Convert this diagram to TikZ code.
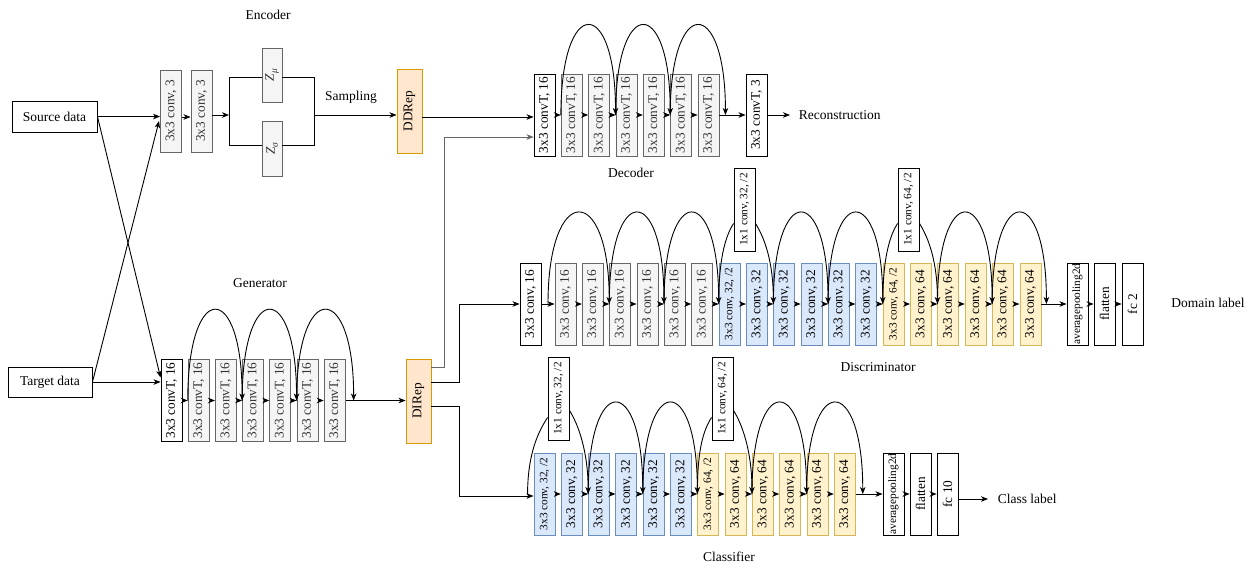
\documentclass[tikz,border=0pt]{standalone}
\usepackage{fontspec}
\setmainfont{Liberation Serif}
\usetikzlibrary{arrows.meta,calc}
\definecolor{grayfill}{HTML}{F5F5F5}
\definecolor{graydraw}{HTML}{666666}
\definecolor{graytext}{HTML}{333333}
\definecolor{bluefill}{HTML}{DAE8FC}
\definecolor{bluedraw}{HTML}{6C8EBF}
\definecolor{yelfill}{HTML}{FFF2CC}
\definecolor{yeldraw}{HTML}{D6B656}
\definecolor{orfill}{HTML}{FFE6CC}
\definecolor{ordraw}{HTML}{D79B00}
\newcommand{\vt}[1]{\rotatebox{90}{\makebox[0pt]{#1}}}
\newcommand{\zsub}[1]{\textit{Z}\raisebox{-3pt}{\fontsize{9.5}{10}\selectfont\textit{#1}}}
\begin{document}
\begin{tikzpicture}[x=1pt,y=-1pt, line width=0.9pt,
 >={Stealth[length=7pt,width=5.5pt,inset=2pt]},
 font=\fontsize{13.5}{16}\selectfont,
 lay/.style={draw, line width=0.9pt, minimum width=21pt, minimum height=82pt, inner sep=0pt, font=\fontsize{13.3}{15}\selectfont},
 wbox/.style={lay, fill=white, draw=black},
 gbox/.style={lay, fill=grayfill, draw=graydraw, text=graytext},
 bbox/.style={lay, fill=bluefill, draw=bluedraw},
 ybox/.style={lay, fill=yelfill, draw=yeldraw},
 obox/.style={lay, fill=orfill, draw=ordraw, minimum width=25pt, minimum height=84pt},
 small/.style={font=\fontsize{11.3}{13}\selectfont},
 tbox/.style={draw, minimum width=85pt, minimum height=31pt, inner sep=0pt},
 res/.style={->},
]
\useasboundingbox (0,0) rectangle (1247,563);

% ---------------- labels
\node (lenc) at (268,15) {Encoder};
\node (lsamp) at (351,97) {Sampling};
\node (ldec) at (631,173) {Decoder};
\node (lgen) at (260,283) {Generator};
\node (ldis) at (878,367) {Discriminator};
\node (ldom) at (1208,303) {Domain label};
\node (lcls) at (729,557) {Classifier};

% ---------------- inputs
\node[tbox] (src) at (54.5,116.5) {Source data};
\node[tbox, minimum width=84pt, minimum height=30pt] (tgt) at (50,382) {Target data};

% ---------------- encoder
\node[gbox] (e1) at (171,111) {\vt{3x3 conv, 3}};
\node[gbox] (e2) at (201.5,111) {\vt{3x3 conv, 3}};
\node[gbox, minimum width=20pt, minimum height=54pt] (zmu) at (272,75) {\vt{\zsub{μ}}};
\node[gbox, minimum width=20pt, minimum height=55pt] (zsig) at (272,148.5) {\vt{\zsub{σ}}};
\node[obox] (ddrep) at (409.5,111) {\vt{DDRep}};

\coordinate (jm) at (229,115);
\coordinate (jt) at (229,77);
\coordinate (jb) at (229,145);
\coordinate (kt) at (314,77);
\coordinate (kb) at (314,145);
\coordinate (km) at (314,115);

\draw[->] (src.east) -- (src.east -| e1.west);
\draw[->] ($(e1.east)+(0,6)$) -- ($(e2.west)+(0,6)$);
\draw[->] ($(e2.east)+(0,4)$) -- (jm);
\draw (jt) -- (jb);
\draw (jt) -- (jt -| zmu.west);
\draw (jb) -- (jb -| zsig.west);
\draw (zmu.east |- kt) -- (kt) -- (kb) -- (zsig.east |- kb);
\draw[->] (km) -- (km -| ddrep.west);

% ---------------- generator
\node[wbox] (g1) at (171.5,400.5) {\vt{3x3 convT, 16}};
\foreach \i in {2,...,7}
  \node[gbox] (g\i) at ({171.5+27.2*(\i-1)},400.5) {\vt{3x3 convT, 16}};
\node[obox] (direp) at (418.5,401) {\vt{DIRep}};
\draw[->] (tgt.east) -- (tgt.east -| g1.west);
\foreach \a/\b in {1/2,2/3,3/4,4/5,5/6,6/7}
  \draw[->] (g\a.east) -- (g\b.west);
\draw[->] (g7.east) -- (g7.east -| direp.west);
\draw[res] (g2.west) .. controls +(0,-121) and +(0,-121) .. (g4.west);
\draw[res] (g4.west) .. controls +(0,-121) and +(0,-121) .. (g6.west);
\draw[res] (g6.west) .. controls +(0,-121) and +(0,-121) .. ($(g7.east)+(8,0)$);

% cross connections
\draw[->] (src.east) -- ($(g1.west)+(0,-23)$);
\draw[->] (tgt.east) -- ($(e1.west)+(-1,10)$);

% ---------------- decoder
\node[wbox] (d1) at (544.5,115) {\vt{3x3 convT, 16}};
\foreach \i in {2,...,7}
  \node[gbox] (d\i) at ({544.5+27.33*(\i-1)},115) {\vt{3x3 convT, 16}};
\node[wbox] (dl) at (756.5,115) {\vt{3x3 convT, 3}};
\coordinate (rec) at (790,115);
\node[anchor=west] (lrec) at (795,115) {Reconstruction};
\draw[->] ($(ddrep.east)+(0,6)$) -- ($(d1.west)+(0,2)$);
\foreach \a/\b in {1/2,2/3,3/4,4/5,5/6,6/7}
  \draw[->] (d\a.east) -- (d\b.west);
\draw[->] (d7.east) -- (dl.west);
\draw[->] (dl.east) -- (rec);
\draw[res] (d2.west) .. controls +(0,-120) and +(0,-120) .. (d4.west);
\draw[res] (d4.west) .. controls +(0,-120) and +(0,-120) .. (d6.west);
\draw[res] (d6.west) .. controls +(0,-120) and +(0,-120) .. ($(d7.east)+(6,0)$);

% ---------------- discriminator
\node[wbox] (dc1) at (530.5,304) {\vt{3x3 conv, 16}};
\foreach \i in {1,...,6}
  \node[gbox] (s\i) at ({565.5+27.35*(\i-1)},304) {\vt{3x3 conv, 16}};
\node[bbox,small] (s7) at ({565.5+27.35*6},304) {\vt{3x3 conv, 32, /2}};
\foreach \i in {8,...,12}
  \node[bbox] (s\i) at ({565.5+27.35*(\i-1)},304) {\vt{3x3 conv, 32}};
\node[ybox,small] (s13) at ({565.5+27.35*12},304) {\vt{3x3 conv, 64, /2}};
\foreach \i in {14,...,18}
  \node[ybox] (s\i) at ({565.5+27.35*(\i-1)},304) {\vt{3x3 conv, 64}};
\node[wbox,small] (davg) at (1077.5,304) {\vt{averagepooling2d}};
\node[wbox] (dfl) at (1104.5,304) {\vt{flatten}};
\node[wbox] (dfc) at (1132.5,304) {\vt{fc 2}};
\node[wbox,small,minimum height=83pt] (x1) at (744.5,209.5) {\vt{1x1 conv, 32, /2}};
\node[wbox,small,minimum height=83pt] (x2) at (908.5,209.5) {\vt{1x1 conv, 64, /2}};

\draw[->] (dc1.east) -- (s1.west);
\foreach \a/\b in {1/2,2/3,3/4,4/5,5/6,6/7,7/8,8/9,9/10,10/11,11/12,12/13,13/14,14/15,15/16,16/17,17/18}
  \draw[->] (s\a.east) -- (s\b.west);
\draw[->] (s18.east) -- (davg.west);
\draw[->] (davg.east) -- (dfl.west);
\draw[->] (dfl.east) -- (dfc.west);
\draw[res] ($(dc1.east)!.5!(s1.west)$) .. controls +(0,-122) and +(0,-122) .. (s3.west);
\draw[res] (s3.west) .. controls +(0,-122) and +(0,-122) .. (s5.west);
\draw[res] (s5.west) .. controls +(0,-122) and +(0,-122) .. (s7.west);
\draw (s7.west) .. controls +(0,-42) and +(-9,14) .. ($(x1.south west)+(0,-28)$);
\draw[->] ($(x1.south east)+(0,-28)$) .. controls +(9,14) and +(0,-42) .. (s9.west);
\draw[res] (s9.west) .. controls +(0,-122) and +(0,-122) .. (s11.west);
\draw[res] (s11.west) .. controls +(0,-122) and +(0,-122) .. (s13.west);
\draw (s13.west) .. controls +(0,-42) and +(-9,14) .. ($(x2.south west)+(0,-28)$);
\draw[->] ($(x2.south east)+(0,-28)$) .. controls +(9,14) and +(0,-42) .. (s15.west);
\draw[res] (s15.west) .. controls +(0,-122) and +(0,-122) .. (s17.west);
\draw[res] (s17.west) .. controls +(0,-122) and +(0,-122) .. ($(s18.east)+(5,0)$);

% ---------------- classifier
\node[bbox,small] (k1) at (544.5,494) {\vt{3x3 conv, 32, /2}};
\foreach \i in {2,...,6}
  \node[bbox] (k\i) at ({544.5+27.3*(\i-1)},494) {\vt{3x3 conv, 32}};
\node[ybox,small] (k7) at ({544.5+27.3*6},494) {\vt{3x3 conv, 64, /2}};
\foreach \i in {8,...,12}
  \node[ybox] (k\i) at ({544.5+27.3*(\i-1)},494) {\vt{3x3 conv, 64}};
\node[wbox,small] (cavg) at (893.5,494) {\vt{averagepooling2d}};
\node[wbox] (cfl) at (920.5,494) {\vt{flatten}};
\node[wbox] (cfc) at (947.5,494) {\vt{fc 10}};
\node[wbox,small,minimum height=83pt] (x3) at (558.5,398.5) {\vt{1x1 conv, 32, /2}};
\node[wbox,small,minimum height=83pt] (x4) at (722.5,398.5) {\vt{1x1 conv, 64, /2}};
\coordinate (clsend) at (988,499);
\node[anchor=west] (lclass) at (994,499) {Class label};

\foreach \a/\b in {1/2,2/3,3/4,4/5,5/6,6/7,7/8,8/9,9/10,10/11,11/12}
  \draw[->] (k\a.east) -- (k\b.west);
\draw[->] (k12.east) -- (cavg.west);
\draw[->] (cavg.east) -- (cfl.west);
\draw[->] (cfl.east) -- (cfc.west);
\draw[->] (cfc.east |- clsend) -- (clsend);
\draw ($(k1.west)+(-6,1)$) .. controls +(0,-42) and +(-9,14) .. ($(x3.south west)+(0,-23)$);
\draw[->] ($(x3.south east)+(0,-30)$) .. controls +(9,14) and +(0,-42) .. (k3.west);
\draw[res] (k3.west) .. controls +(0,-122) and +(0,-122) .. (k5.west);
\draw[res] (k5.west) .. controls +(0,-122) and +(0,-122) .. (k7.west);
\draw (k7.west) .. controls +(0,-42) and +(-9,14) .. ($(x4.south west)+(0,-23)$);
\draw[->] ($(x4.south east)+(0,-30)$) .. controls +(9,14) and +(0,-42) .. (k9.west);
\draw[res] (k9.west) .. controls +(0,-122) and +(0,-122) .. (k11.west);
\draw[res] (k11.west) .. controls +(0,-122) and +(0,-122) .. ($(k12.east)+(7,0)$);

% ---------------- DIRep outputs
\draw[->, draw=graydraw] ($(direp.east)+(0,-34)$) -- (444,367) -- (444,137) -- ($(d1.west)+(0,22)$);
\draw[->] ($(direp.east)+(0,-19)$) -- (459,382) -- (459,304) -- (dc1.west);
\draw[->] ($(direp.east)+(0,5)$) -- (459,406) -- (459,496) -- ($(k1.west)+(0,2)$);
\end{tikzpicture}
\end{document}
